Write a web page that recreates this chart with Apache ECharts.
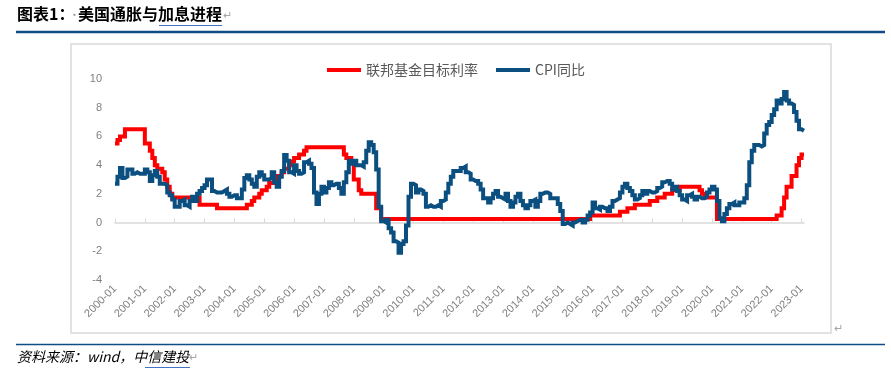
<!DOCTYPE html>
<html>
<head>
<meta charset="utf-8">
<script src="https://cdn.jsdelivr.net/npm/echarts@6/dist/echarts.min.js"></script>
<style>
html,body{margin:0;padding:0;background:#fff;}
#chart{width:891px;height:372px;}
</style>
</head>
<body>
<div id="chart"></div>
<script>
// ---------- data ----------
const seriesNames = ['联邦基金目标利率', 'CPI同比'];
const startYear = 2000, endYear = 2023, endMonth = 2;
const months = [];
for (let y = startYear; y <= endYear; y++) {
  for (let m = 1; m <= 12; m++) {
    if (y === endYear && m > endMonth) break;
    months.push(y + '-' + (m < 10 ? '0' + m : m));
  }
}
// Fed funds target rate (upper bound), monthly, 2000-01 .. 2023-02
const fedTarget = [
  5.5,5.75,6.0,6.0,6.5,6.5,6.5,6.5,6.5,6.5,6.5,6.5,
  5.5,5.5,5.0,4.5,4.0,3.75,3.75,3.5,3.0,2.5,2.0,1.75,
  1.75,1.75,1.75,1.75,1.75,1.75,1.75,1.75,1.75,1.75,1.25,1.25,
  1.25,1.25,1.25,1.25,1.25,1.0,1.0,1.0,1.0,1.0,1.0,1.0,
  1.0,1.0,1.0,1.0,1.0,1.25,1.25,1.5,1.75,1.75,2.0,2.25,
  2.25,2.5,2.75,2.75,3.0,3.25,3.25,3.5,3.75,3.75,4.0,4.25,
  4.5,4.5,4.75,4.75,5.0,5.25,5.25,5.25,5.25,5.25,5.25,5.25,
  5.25,5.25,5.25,5.25,5.25,5.25,5.25,5.25,4.75,4.5,4.5,4.25,
  3.0,3.0,2.25,2.0,2.0,2.0,2.0,2.0,2.0,1.0,1.0,0.25,
  0.25,0.25,0.25,0.25,0.25,0.25,0.25,0.25,0.25,0.25,0.25,0.25,
  0.25,0.25,0.25,0.25,0.25,0.25,0.25,0.25,0.25,0.25,0.25,0.25,
  0.25,0.25,0.25,0.25,0.25,0.25,0.25,0.25,0.25,0.25,0.25,0.25,
  0.25,0.25,0.25,0.25,0.25,0.25,0.25,0.25,0.25,0.25,0.25,0.25,
  0.25,0.25,0.25,0.25,0.25,0.25,0.25,0.25,0.25,0.25,0.25,0.25,
  0.25,0.25,0.25,0.25,0.25,0.25,0.25,0.25,0.25,0.25,0.25,0.25,
  0.25,0.25,0.25,0.25,0.25,0.25,0.25,0.25,0.25,0.25,0.25,0.5,
  0.5,0.5,0.5,0.5,0.5,0.5,0.5,0.5,0.5,0.5,0.5,0.75,
  0.75,0.75,1.0,1.0,1.0,1.25,1.25,1.25,1.25,1.25,1.25,1.5,
  1.5,1.5,1.75,1.75,1.75,2.0,2.0,2.0,2.25,2.25,2.25,2.5,
  2.5,2.5,2.5,2.5,2.5,2.5,2.5,2.25,2.0,1.75,1.75,1.75,
  1.75,1.75,0.25,0.25,0.25,0.25,0.25,0.25,0.25,0.25,0.25,0.25,
  0.25,0.25,0.25,0.25,0.25,0.25,0.25,0.25,0.25,0.25,0.25,0.25,
  0.25,0.25,0.5,0.5,1.0,1.75,2.5,2.5,3.25,3.25,4.0,4.5,
  4.75,4.75
];
// US CPI YoY (%), monthly, 2000-01 .. 2023-02
const cpiYoY = [
  2.7,3.2,3.8,3.1,3.2,3.7,3.7,3.4,3.5,3.4,3.4,3.4,
  3.7,3.5,2.9,3.3,3.6,3.2,2.7,2.7,2.6,2.1,1.9,1.6,
  1.1,1.1,1.5,1.6,1.2,1.1,1.5,1.8,1.5,2.0,2.2,2.4,
  2.6,3.0,3.0,2.2,2.1,2.1,2.1,2.2,2.3,2.0,1.8,1.9,
  1.9,1.7,1.7,2.3,3.1,3.3,3.0,2.7,2.5,3.2,3.5,3.3,
  3.0,3.0,3.1,3.5,2.8,2.5,3.2,3.6,4.7,4.3,3.5,3.4,
  4.0,3.6,3.4,3.5,4.2,4.3,4.1,3.8,2.1,1.3,2.0,2.5,
  2.1,2.4,2.8,2.6,2.7,2.7,2.4,2.0,2.8,3.5,4.3,4.1,
  4.3,4.0,4.0,3.9,4.2,5.0,5.6,5.4,4.9,3.7,1.1,0.1,
  0.0,0.2,-0.4,-0.7,-1.3,-1.4,-2.1,-1.5,-1.3,-0.2,1.8,2.7,
  2.6,2.1,2.3,2.2,2.0,1.1,1.2,1.1,1.1,1.2,1.1,1.5,
  1.6,2.1,2.7,3.2,3.6,3.6,3.6,3.8,3.9,3.5,3.4,3.0,
  2.9,2.9,2.7,2.3,1.7,1.7,1.4,1.7,2.0,2.2,1.8,1.7,
  1.6,2.0,1.5,1.1,1.4,1.8,2.0,1.5,1.2,1.0,1.2,1.5,
  1.6,1.1,1.5,2.0,2.1,2.1,2.0,1.7,1.7,1.7,1.3,0.8,
  -0.1,0.0,-0.1,-0.2,0.0,0.1,0.2,0.2,0.0,0.2,0.5,0.7,
  1.4,1.0,0.9,1.1,1.0,1.0,0.8,1.1,1.5,1.6,1.7,2.1,
  2.5,2.7,2.4,2.2,1.9,1.6,1.7,1.9,2.2,2.0,2.2,2.1,
  2.1,2.2,2.4,2.5,2.8,2.9,2.9,2.7,2.3,2.5,2.2,1.9,
  1.6,1.5,1.9,2.0,1.8,1.6,1.8,1.7,1.7,1.8,2.1,2.3,
  2.5,2.3,1.5,0.3,0.1,0.6,1.0,1.3,1.4,1.2,1.2,1.4,
  1.4,1.7,2.6,4.2,5.0,5.4,5.4,5.3,5.4,6.2,6.8,7.0,
  7.5,7.9,8.5,8.3,8.6,9.1,8.5,8.3,8.2,7.7,7.1,6.5,
  6.4,6.4
];
const yMin = -4, yMax = 10, yStep = 2;

// ---------- chart ----------
const chart = echarts.init(document.getElementById('chart'), null, {renderer: 'canvas'});
const cjk = '"Noto Sans CJK SC", "Noto Sans", sans-serif';
const latin = '"Liberation Sans", Arial, sans-serif';
const option = {
  backgroundColor: '#ffffff',
  animation: false,
  textStyle: {fontFamily: cjk},
  grid: {left: 115, right: 87, top: 79, bottom: 92, containLabel: false},
  legend: {
    left: 322, top: 58,
    itemWidth: 34, itemHeight: 4, itemGap: 18,
    icon: 'rect',
    textStyle: {color: '#595959', fontSize: 14, fontFamily: cjk},
    data: seriesNames
  },
  xAxis: [
    {
      type: 'category', data: months, boundaryGap: false, position: 'bottom',
      axisLine: {show: false, onZero: false},
      axisTick: {show: false},
      axisLabel: {
        rotate: 45, interval: 11, margin: 7,
        color: '#7f7f7f', fontSize: 11, fontFamily: latin
      },
      splitLine: {show: false}
    },
    {
      type: 'category', data: months, boundaryGap: false, position: 'top',
      axisLine: {show: true, onZero: true, lineStyle: {color: '#d9d9d9', width: 1.5}},
      axisTick: {show: true, interval: 11, length: 4, inside: false, lineStyle: {color: '#d9d9d9', width: 1}},
      axisLabel: {show: false},
      splitLine: {show: false}
    }
  ],
  yAxis: {
    type: 'value', min: yMin, max: yMax, interval: yStep,
    axisLine: {show: false}, axisTick: {show: false},
    splitLine: {show: false},
    axisLabel: {color: '#7f7f7f', fontSize: 11, margin: 13, fontFamily: latin}
  },
  series: [
    {
      name: seriesNames[0], type: 'line', data: fedTarget, xAxisIndex: 0,
      showSymbol: false, symbol: 'none', step: 'end',
      itemStyle: {color: '#ff0000'},
      lineStyle: {color: '#ff0000', width: 4, join: 'miter', cap: 'butt'}
    },
    {
      name: seriesNames[1], type: 'line', data: cpiYoY, xAxisIndex: 0,
      showSymbol: false, symbol: 'none', step: 'end',
      itemStyle: {color: '#0b4f80'},
      lineStyle: {color: '#0b4f80', width: 4, join: 'miter', cap: 'butt'}
    }
  ],
  graphic: [
    // title
    {type: 'text', left: 17, top: 6, style: {text: '图表1：', font: 'bold 16px ' + cjk, fill: '#000'}},
    {type: 'text', left: 69, top: 9, style: {text: '·', font: '11px ' + cjk, fill: '#9a9a9a'}},
    {type: 'text', left: 78, top: 6, style: {text: '美国通胀与加息进程', font: 'bold 16px ' + cjk, fill: '#000'}},
    {type: 'text', left: 223, top: 9, style: {text: '↵', font: '11px ' + cjk, fill: '#a6a6a6'}},
    {type: 'line', shape: {x1: 159, y1: 25.5, x2: 222, y2: 25.5}, style: {stroke: '#4472c4', lineWidth: 1}},
    {type: 'line', shape: {x1: 16, y1: 32, x2: 885, y2: 32}, style: {stroke: '#0f4c87', lineWidth: 2.5}},
    // chart border
    {type: 'rect', shape: {x: 71, y: 44, width: 760, height: 289}, style: {fill: 'none', stroke: '#d9d9d9', lineWidth: 1.5}, z: -1},
    {type: 'text', left: 834, top: 322, style: {text: '↵', font: '11px ' + cjk, fill: '#a6a6a6'}},
    // footer
    {type: 'line', shape: {x1: 16, y1: 344.5, x2: 885, y2: 344.5}, style: {stroke: '#0f4c87', lineWidth: 1.5}},
    {type: 'text', left: 17, top: 350, style: {
      rich: {
        t: {fontSize: 14, fontStyle: 'italic', fill: '#000', fontFamily: cjk},
        m: {fontSize: 11, fill: '#a6a6a6', fontFamily: cjk}
      },
      text: '{t|资料来源：wind，中信建投}{m|↵}'
    }},
    {type: 'line', shape: {x1: 145, y1: 367.5, x2: 190, y2: 367.5}, style: {stroke: '#4472c4', lineWidth: 1}}
  ]
};
chart.setOption(option);
</script>
</body>
</html>
